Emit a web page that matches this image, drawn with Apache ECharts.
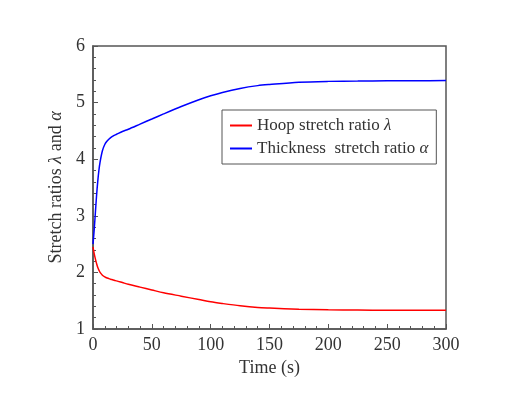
<!DOCTYPE html>
<html><head><meta charset="utf-8">
<script src="https://cdn.jsdelivr.net/npm/echarts@6/dist/echarts.min.js"></script>
<style>html,body{margin:0;padding:0;background:#fff}#c{width:520px;height:398px}</style>
</head><body><div id="c"></div>
<script>
const time = [0,1,2,3,4,5,6,8,10,12,15,18,20,25,30,40,50,60,75,90,100,110,125,140,150,175,200,225,250,275,300];
const alpha = [2.5,2.75,3.05,3.35,3.6,3.8,3.95,4.15,4.26,4.32,4.38,4.42,4.44,4.49,4.53,4.62,4.71,4.80,4.93,5.05,5.12,5.18,5.25,5.30,5.32,5.36,5.375,5.38,5.385,5.385,5.39];
const lambda = [2.45,2.33,2.24,2.16,2.09,2.04,2.0,1.95,1.92,1.90,1.88,1.86,1.85,1.82,1.79,1.74,1.69,1.64,1.58,1.52,1.48,1.45,1.41,1.38,1.37,1.35,1.34,1.335,1.33,1.33,1.33];
const xTicks = [0,50,100,150,200,250,300];
const yTicks = [1,2,3,4,5,6];
const seriesNames = ['Hoop stretch ratio λ','Thickness stretch ratio α'];

const serif = 'Liberation Serif, Times New Roman, serif';
const chart = echarts.init(document.getElementById('c'));
const pair = arr => time.map((t,i)=>[t,arr[i]]);
chart.setOption({
  animation:false,
  grid:{left:93,right:74,top:46,bottom:69,show:true,borderColor:'#555',borderWidth:1.5},
  xAxis:{type:'value',min:xTicks[0],max:xTicks[xTicks.length-1],interval:50,
    axisLine:{lineStyle:{color:'#555',width:1.5}},
    axisTick:{inside:true,length:5,lineStyle:{color:'#555'}},
    minorTick:{show:true,splitNumber:5,length:3,lineStyle:{color:'#555'}},
    splitLine:{show:false},
    axisLabel:{color:'#333',fontFamily:serif,fontSize:18,margin:7},
    name:'Time (s)',nameLocation:'middle',nameGap:29,
    nameTextStyle:{color:'#333',fontFamily:serif,fontSize:18}},
  yAxis:{type:'value',min:yTicks[0],max:yTicks[yTicks.length-1],interval:1,
    axisLine:{lineStyle:{color:'#555',width:1.5}},
    axisTick:{inside:true,length:5,lineStyle:{color:'#555'}},
    minorTick:{show:true,splitNumber:5,length:3,lineStyle:{color:'#555'}},
    splitLine:{show:false},
    axisLabel:{color:'#333',fontFamily:serif,fontSize:18,margin:8},
    name:'{n|Stretch ratios }{i|λ}{n| and }{i|α}',nameLocation:'middle',nameGap:28,
    nameTextStyle:{rich:{n:{fontFamily:serif,fontSize:18,color:'#333'},i:{fontFamily:serif,fontStyle:'italic',fontSize:18,color:'#333'}}}},
  legend:{orient:'vertical',left:222,top:110,width:216,
    backgroundColor:'#fff',borderColor:'#555',borderWidth:1,padding:[7,8,7,8],
    itemWidth:22,itemHeight:2,itemGap:6,icon:'rect',
    formatter:function(name){
      const idx = seriesNames.indexOf(name);
      const base = idx===0 ? 'Hoop stretch ratio ' : 'Thickness  stretch ratio ';
      const sym = idx===0 ? 'λ' : 'α';
      return '{n|'+base+'}{i|'+sym+'}';
    },
    textStyle:{rich:{n:{fontFamily:serif,fontSize:17,color:'#333'},i:{fontFamily:serif,fontStyle:'italic',fontSize:17,color:'#333'}}},
    data:seriesNames},
  series:[
    {name:seriesNames[0],type:'line',data:pair(lambda),smooth:0.3,showSymbol:false,symbol:'none',lineStyle:{color:'#ff0000',width:1.5},itemStyle:{color:'#ff0000'}},
    {name:seriesNames[1],type:'line',data:pair(alpha),smooth:0.3,showSymbol:false,symbol:'none',lineStyle:{color:'#0000ff',width:1.5},itemStyle:{color:'#0000ff'}}
  ]
});
</script></body></html>
